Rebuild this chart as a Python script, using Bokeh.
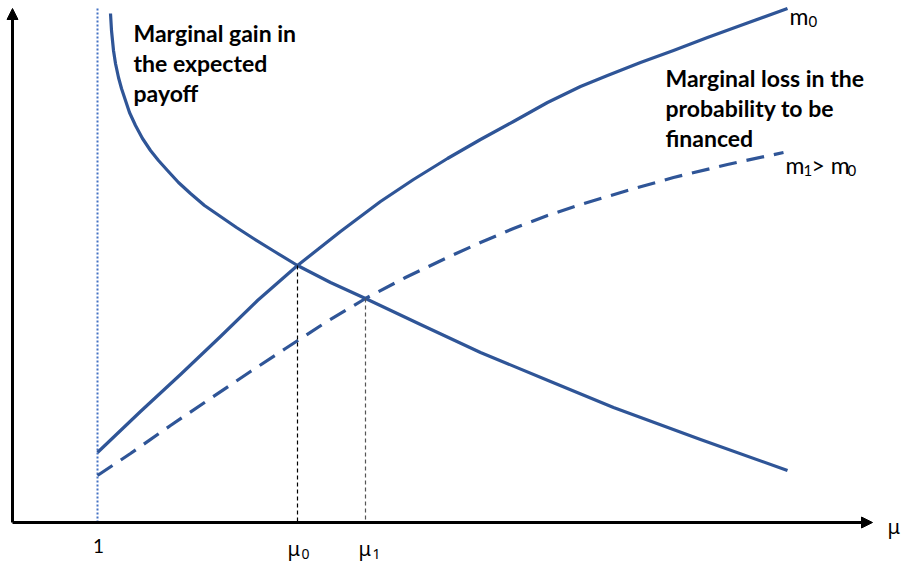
from bokeh.plotting import figure
from bokeh.models import Range1d, Arrow, NormalHead
from bokeh.embed import file_html
from bokeh.resources import INLINE
from bokeh.core.properties import value

# Schematic diagram values (in image units, y grows downward)
gain_x = [110, 111, 113, 115, 118, 121, 125, 129, 135, 142, 150, 158, 167, 178, 190, 204,
          220, 236, 253, 274, 297, 330, 365, 420, 480, 550, 613, 700, 787]
gain_y = [13, 30, 50, 63, 77, 88, 100, 112, 125, 138, 150, 160, 170, 182, 193, 205,
          216, 227, 238, 251, 265, 282, 298, 324, 352, 381, 407, 439, 470]

loss_m0_x = [97, 140, 180, 220, 257, 297, 340, 380, 413, 447, 480, 513, 547, 580, 607,
             640, 673, 707, 740, 787]
loss_m0_y = [452, 411, 374, 336, 300, 265, 231, 201, 179, 158, 139, 121, 102, 86, 75,
             62, 50, 37, 25, 8]

loss_m1_x = [97, 130, 170, 210, 250, 285, 325, 365, 405, 447, 480, 513, 547, 580, 627,
             673, 727, 783]
loss_m1_y = [475, 453, 425, 398, 371, 348, 322, 298, 277, 257, 242, 228, 215, 204, 190,
             177, 164, 152]

mu_one = 97        # mu = 1
mu_0 = 297         # equilibrium for m0
mu_1 = 365         # equilibrium for m1
y_mu0 = 265
y_mu1 = 298
axis_origin_x = 12
axis_origin_y = 522
axis_top = 8
axis_right = 872

gain_label = ["Marginal gain in", "the expected", "payoff"]
loss_label = ["Marginal loss in the", "probability to be", "financed"]

BLUE = "#2F5597"
LIGHT_BLUE = "#4472C4"

p = figure(width=904, height=562, x_range=Range1d(0, 904), y_range=Range1d(562, 0),
           output_backend="svg", toolbar_location=None,
           x_axis_location=None, y_axis_location=None, min_border=0)
p.grid.visible = False
p.outline_line_color = None
p.background_fill_color = "white"
p.border_fill_color = "white"

# vertical dotted line at mu = 1
p.line([mu_one, mu_one], [axis_top, axis_origin_y], line_color=LIGHT_BLUE,
       line_width=2, line_dash="2 2")

# curves
p.line(gain_x, gain_y, line_color=BLUE, line_width=3.2, line_join="round")
p.line(loss_m0_x, loss_m0_y, line_color=BLUE, line_width=3.2, line_join="round")
p.line(loss_m1_x, loss_m1_y, line_color=BLUE, line_width=3.2, line_dash="18 10")

# vertical dashed guides
p.line([mu_0, mu_0], [y_mu0, axis_origin_y], line_color="black", line_width=1.2, line_dash="4 3")
p.line([mu_1, mu_1], [y_mu1, axis_origin_y], line_color="#555555", line_width=1.2, line_dash="4 3")

# axes with arrows
p.add_layout(Arrow(end=NormalHead(size=11, fill_color="black", line_color="black"),
                   x_start=axis_origin_x, y_start=axis_origin_y,
                   x_end=axis_origin_x, y_end=axis_top, line_width=3, line_color="black"))
p.add_layout(Arrow(end=NormalHead(size=11, fill_color="black", line_color="black"),
                   x_start=axis_origin_x, y_start=axis_origin_y,
                   x_end=axis_right, y_end=axis_origin_y, line_width=3, line_color="black"))

# bold annotations
p.text(x=[133] * 3, y=[32, 62, 92], text=gain_label, text_font=value("Lato"),
       text_font_style="bold", text_font_size="23px", text_color="black",
       text_baseline="alphabetic", text_align="left")
p.text(x=[665] * 3, y=[77, 107, 137], text=loss_label, text_font=value("Lato"),
       text_font_style="bold", text_font_size="23px", text_color="black",
       text_baseline="alphabetic", text_align="left")

# curve labels
reg = dict(text_font=value("Lato"), text_color="black", text_baseline="alphabetic", text_align="left")
p.text(x=[789], y=[15], text=["m"], text_font_size="23px", **reg)
p.text(x=[808], y=[21], text=["0"], text_font_size="15px", **reg)
p.text(x=[785], y=[164], text=["m"], text_font_size="23px", **reg)
p.text(x=[803], y=[170], text=["1"], text_font_size="15px", **reg)
p.text(x=[811], y=[164], text=["> m"], text_font_size="23px", **reg)
p.text(x=[847], y=[170], text=["0"], text_font_size="15px", **reg)

# x-axis tick-like labels
p.text(x=[mu_one + 1], y=[545], text=["1"], text_font=value("Lato"), text_font_size="19px",
       text_color="black", text_baseline="alphabetic", text_align="center")
mu = dict(text_font=value("Noto Sans"), text_color="black", text_baseline="alphabetic", text_align="left")
p.text(x=[287], y=[548], text=["μ"], text_font_size="20px", **mu)
p.text(x=[301], y=[553], text=["0"], text_font_size="14px", **mu)
p.text(x=[358], y=[548], text=["μ"], text_font_size="20px", **mu)
p.text(x=[372], y=[553], text=["1"], text_font_size="14px", **mu)
p.text(x=[887], y=[526], text=["μ"], text_font_size="20px", **mu)

open("out.html", "w").write(file_html(p, INLINE))
